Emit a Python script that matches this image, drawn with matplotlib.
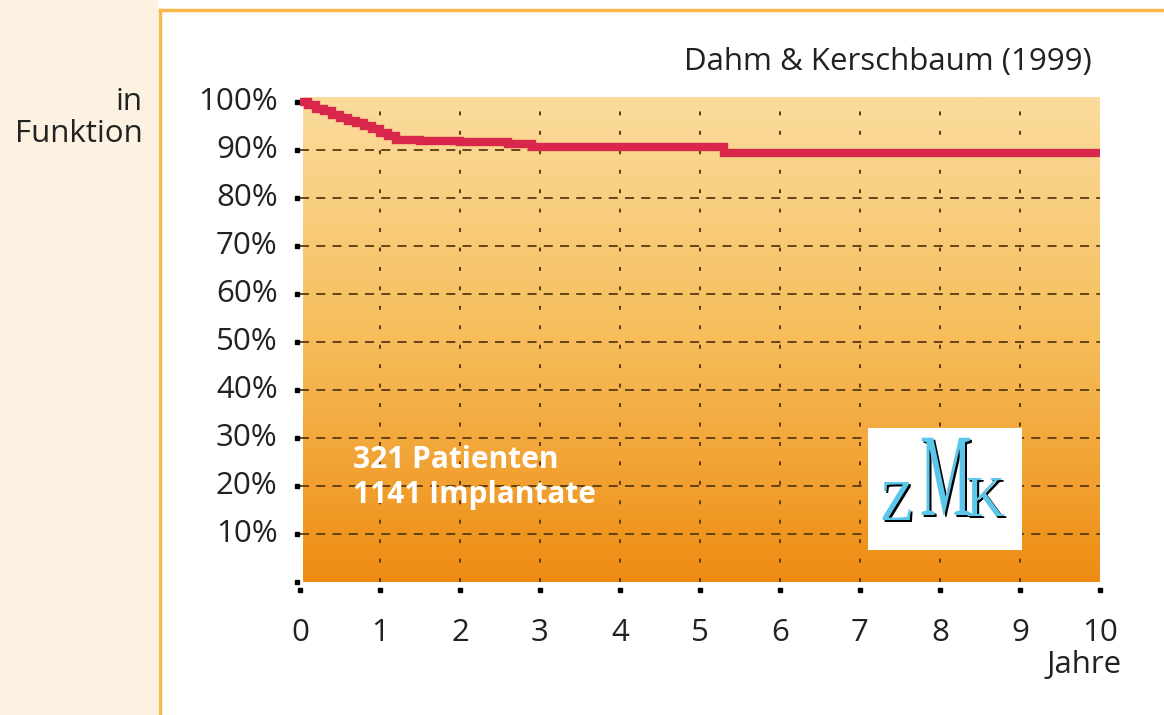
import numpy as np
import matplotlib
matplotlib.use("Agg")
import matplotlib.pyplot as plt
from matplotlib.colors import LinearSegmentedColormap
from matplotlib.textpath import TextPath
from matplotlib.patches import PathPatch, Rectangle
from matplotlib.font_manager import FontProperties
import matplotlib.transforms as mtransforms

# survival curve (Kaplan-Meier style), years vs. % in function
years = [0, 0.1, 0.2, 0.3, 0.4, 0.5, 0.6, 0.7, 0.8, 0.9, 1.0, 1.1, 1.2,
         1.5, 2.0, 2.6, 2.9, 3.5, 4.5, 5.3, 6.0, 10.0]
survival = [100, 99.3, 98.6, 98.0, 97.3, 96.6, 95.9, 95.5, 95.0, 94.3, 93.6,
            92.8, 92.1, 91.8, 91.6, 91.2, 90.6, 90.6, 90.6, 89.4, 89.3, 89.3]

x_ticks = list(range(0, 11))
y_ticks = list(range(10, 101, 10))
y_labels = [f"{v}%" for v in y_ticks]

title = "Dahm & Kerschbaum (1999)"
note = "321 Patienten\n1141 Implantate"

W, H = 1164, 715
FS = 22.5
plt.rcParams["font.family"] = ["Open Sans", "DejaVu Sans"]

fig = plt.figure(figsize=(W / 100, H / 100), dpi=100)
fig.patch.set_facecolor("white")

# cream side panel + orange frame lines
fig.patches.append(Rectangle((0, 0), 158 / W, 1, transform=fig.transFigure,
                             facecolor="#fdf2e2", edgecolor="none", zorder=0))
fig.add_artist(plt.Line2D([160 / W, 160 / W], [0, (H - 10) / H],
                          color="#f8b84a", lw=2.5, transform=fig.transFigure))
fig.add_artist(plt.Line2D([160 / W, 1], [(H - 10) / H, (H - 10) / H],
                          color="#f8b84a", lw=2.5, transform=fig.transFigure))

# plot area: x 0..10 -> px 300..1100, y 0..101 -> px 582..97
ax = fig.add_axes([300 / W, (H - 582) / H, 800 / W, 485 / H])
ax.set_xlim(0, 10)
ax.set_ylim(0, 101)
for s in ax.spines.values():
    s.set_visible(False)
ax.set_xticks([])
ax.set_yticks([])

cmap = LinearSegmentedColormap.from_list("bg", ["#fbdc9d", "#f6bd5a", "#ee8c12"])
grad = np.linspace(0, 1, 256).reshape(-1, 1)
ax.imshow(grad, cmap=cmap, aspect="auto", extent=[0.04, 10, 0, 101],
          origin="upper", zorder=0)

grid_c = "#5a3a12"
for yv in y_ticks[:-1]:
    ax.axhline(yv, color=grid_c, lw=1.3, ls=(0, (5, 4)), zorder=1)
for xv in x_ticks[1:-1]:
    ax.axvline(xv, color=grid_c, lw=1.4, ls=(0, (2, 8)), zorder=1)

ax.plot(years, survival, drawstyle="steps-post", color="#d9274c", lw=6,
        solid_capstyle="butt", solid_joinstyle="miter", zorder=3)

# tick dots outside the plot area
ax.plot([-0.04] * 11, [0] + y_ticks, ls="none", marker="s", ms=3.5,
        color="black", clip_on=False)
ax.plot(x_ticks, [-1.7] * 11, ls="none", marker="s", ms=3.5,
        color="black", clip_on=False)

for yv, lab in zip(y_ticks, y_labels):
    ax.text(-0.28, yv, lab, ha="right", va="center", fontsize=FS,
            color="#222222", clip_on=False)
for xv in x_ticks:
    ax.text(xv, -10.7, str(xv), ha="center", va="center", fontsize=FS,
            color="#222222", clip_on=False)
ax.text(9.8, -17.2, "Jahre", ha="center", va="center", fontsize=FS,
        color="#222222", clip_on=False)

fig.text(1092 / W, (H - 62) / H, title, ha="right", va="center",
         fontsize=FS, color="#222222")
fig.text(143 / W, (H - 118) / H, "in\nFunktion", ha="right", va="center",
         fontsize=FS, color="#222222", linespacing=1.05)
ax.text(0.66, 21.8, note, ha="left", va="center", fontsize=21.5,
        fontweight="bold", color="white", linespacing=1.2)

# ZMK logo box
fig.patches.append(Rectangle((868 / W, (H - 550) / H), 154 / W, 122 / H,
                             transform=fig.transFigure, facecolor="white",
                             edgecolor="none", zorder=5))
fp = FontProperties(family="Liberation Serif")


def letter(ch, x0, y0, sx, sy):
    path = TextPath((0, 0), ch, size=1, prop=fp)
    for dx, dy, col in [(2, -2, "black"), (0, 0, "#5cc6ea")]:
        tr = (mtransforms.Affine2D().scale(sx / W, sy / H)
              .translate((x0 + dx) / W, (H - y0 + dy) / H) + fig.transFigure)
        fig.patches.append(PathPatch(path, transform=tr, facecolor=col,
                                     edgecolor="none", zorder=6))


letter("Z", 880, 520, 55, 58)
letter("M", 920, 515, 58, 118)
letter("K", 966, 516, 54, 58)

fig.savefig("out.png", dpi=100)
